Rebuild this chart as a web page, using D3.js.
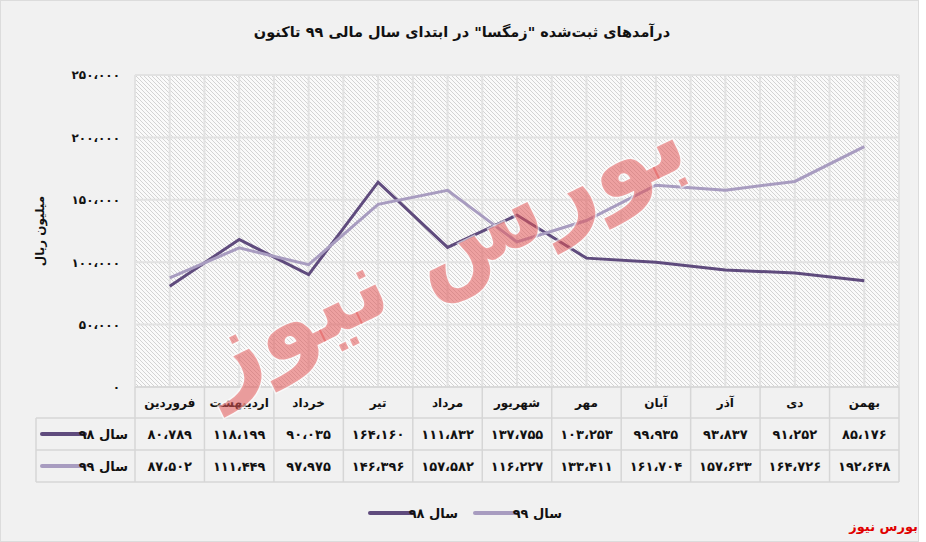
<!DOCTYPE html>
<html><head><meta charset="utf-8">
<script src="https://cdn.jsdelivr.net/npm/d3@7"></script>
<style>
html,body{margin:0;padding:0;background:#fff;}
svg{display:block;}
text{font-family:"DejaVu Sans","Noto Sans",sans-serif;font-weight:bold;}
</style></head>
<body>
<svg id="c" width="926" height="542"></svg>
<script>
const categories = ["فروردین","اردیبهشت","خرداد","تیر","مرداد","شهریور","مهر","آبان","آذر","دی","بهمن"];
const series98 = [80789,118199,90035,164160,111832,137755,103253,99935,93837,91252,85176];
const series99 = [87502,111449,97975,146396,157582,116227,133411,161704,157633,164726,192648];
const seriesNames = ["سال ۹۸","سال ۹۹"];
const yTicks = [0,50000,100000,150000,200000,250000];
const title = "درآمدهای ثبت‌شده \"زمگسا\" در ابتدای سال مالی ۹۹ تاکنون";
const yLabel = "میلیون ریال";
const sourceText = "بورس نیوز";

const colors = ["#5f4b7d","#a89cc0"];
const fa = n => d3.format(",")(n).replace(/,/g,"،").replace(/\d/g,d=>"۰۱۲۳۴۵۶۷۸۹"[d]);

const svg = d3.select("#c");
const L=135,R=899,T=75,B=387;
const rowH=[387,418,450,482];

svg.append("rect").attr("x",0.5).attr("y",0.5).attr("width",918).attr("height",541)
  .attr("fill","#f1f1f1").attr("stroke","#dcdcdc");

const defs = svg.append("defs");
const pat = defs.append("pattern").attr("id","hatch").attr("patternUnits","userSpaceOnUse")
  .attr("width",4).attr("height",4);
pat.append("rect").attr("width",4).attr("height",4).attr("fill","#fafafa");
pat.append("path").attr("d","M0,0L4,4M-1,3L1,5M3,-1L5,1").attr("stroke","#cfcfcf").attr("stroke-width",0.9);

const x = d3.scaleBand().domain(categories).range([L,R]);
const y = d3.scaleLinear().domain([0,250000]).range([B,T]);

svg.append("rect").attr("x",L).attr("y",T).attr("width",R-L).attr("height",B-T).attr("fill","url(#hatch)");

// grid
const grid = svg.append("g").attr("stroke","#e2e2e2").attr("stroke-width",2);
yTicks.forEach(t=>grid.append("line").attr("x1",L).attr("x2",R).attr("y1",y(t)).attr("y2",y(t)));
categories.forEach(c=>{
  [x(c), x(c)+x.bandwidth()/2].forEach(xx=>grid.append("line").attr("x1",xx).attr("x2",xx).attr("y1",T).attr("y2",B));
});
grid.append("line").attr("x1",R).attr("x2",R).attr("y1",T).attr("y2",B);

// y axis
const ax = svg.append("g").attr("transform",`translate(${L},0)`)
  .call(d3.axisLeft(y).tickValues(yTicks).tickSize(0).tickPadding(15).tickFormat(fa));
ax.select(".domain").remove();
ax.selectAll("text").attr("font-size",12).attr("fill","#111").attr("font-family","DejaVu Sans");

svg.append("text").attr("transform","translate(44,231) rotate(-90)").attr("text-anchor","middle")
  .attr("font-size",12).attr("fill","#111").text(yLabel);

// lines
const line = d3.line().x((d,i)=>x(categories[i])+x.bandwidth()/2).y(d=>y(d));
[series98,series99].forEach((s,k)=>{
  svg.append("path").datum(s).attr("d",line).attr("fill","none")
    .attr("stroke",colors[k]).attr("stroke-width",3).attr("stroke-linejoin","miter");
});

// table
const tg = svg.append("g").attr("stroke","#d6d6d6").attr("stroke-width",1.5);
tg.append("line").attr("x1",L).attr("x2",R).attr("y1",rowH[0]).attr("y2",rowH[0]);
[1,2,3].forEach(i=>tg.append("line").attr("x1",36).attr("x2",R).attr("y1",rowH[i]).attr("y2",rowH[i]));
tg.append("line").attr("x1",36).attr("x2",36).attr("y1",rowH[1]).attr("y2",rowH[3]);
categories.forEach(c=>tg.append("line").attr("x1",x(c)).attr("x2",x(c)).attr("y1",rowH[0]).attr("y2",rowH[3]));
tg.append("line").attr("x1",R).attr("x2",R).attr("y1",rowH[0]).attr("y2",rowH[3]);

categories.forEach(c=>svg.append("text").attr("x",x(c)+x.bandwidth()/2).attr("y",407)
  .attr("text-anchor","middle").attr("font-size",12).attr("fill","#111").text(c));
[series98,series99].forEach((s,k)=>{
  const yy = k===0?439:471;
  s.forEach((v,i)=>svg.append("text").attr("x",x(categories[i])+x.bandwidth()/2).attr("y",yy)
    .attr("text-anchor","middle").attr("font-size",13).attr("fill","#111").text(fa(v)));
  svg.append("line").attr("x1",42).attr("x2",85).attr("y1",yy-5).attr("y2",yy-5)
    .attr("stroke",colors[k]).attr("stroke-width",4).attr("stroke-linecap","round");
  svg.append("text").attr("x",128).attr("y",yy).attr("text-anchor","end").attr("font-size",13)
    .attr("fill","#111").text(seriesNames[k]);
});

// legend
[[370,412,458],[475,518,562]].forEach((p,k)=>{
  svg.append("line").attr("x1",p[0]).attr("x2",p[1]).attr("y1",513).attr("y2",513)
    .attr("stroke",colors[k]).attr("stroke-width",4).attr("stroke-linecap","round");
  svg.append("text").attr("x",p[2]).attr("y",518).attr("text-anchor","end").attr("font-size",13)
    .attr("fill","#111").text(seriesNames[k]);
});

// title
svg.append("text").attr("x",462).attr("y",37).attr("text-anchor","middle").attr("font-size",14.5)
  .attr("fill","#111").text(title);

// source
svg.append("text").attr("x",918).attr("y",531).attr("text-anchor","end").attr("font-size",13)
  .attr("fill","#e00000").text(sourceText);

// watermark
svg.append("text").attr("transform","translate(455,278) rotate(-26)").attr("text-anchor","middle")
  .attr("font-size",100).attr("fill","#e25555").attr("fill-opacity",0.55)
  .attr("stroke","#ffffff").attr("stroke-opacity",0.6).attr("stroke-width",3).attr("paint-order","stroke")
  .text(sourceText);
</script>
</body></html>
